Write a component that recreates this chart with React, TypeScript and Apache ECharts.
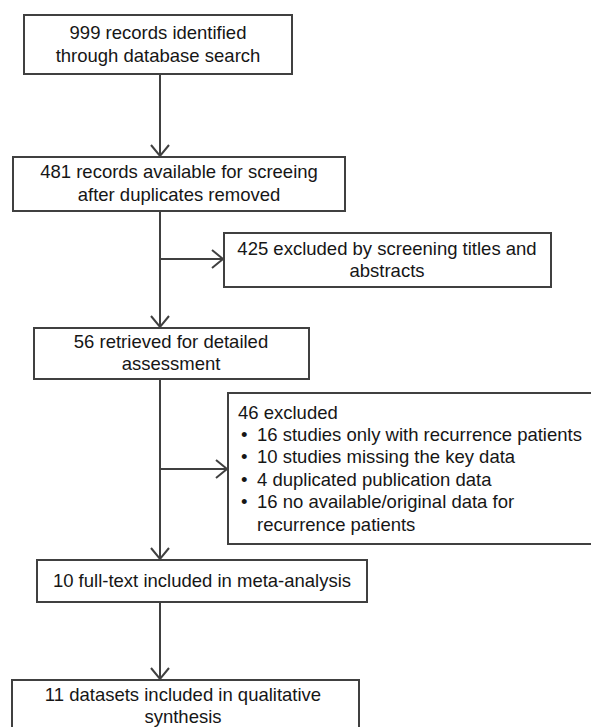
import React, { useEffect, useRef } from "react";
import * as echarts from "echarts";

const mainSteps = [
  "999 records identified\nthrough database search",
  "481 records available for screeing\nafter duplicates removed",
  "56 retrieved for detailed\nassessment",
  "10 full-text included in meta-analysis",
  "11 datasets included in qualitative\nsynthesis",
];
const exclusionTitles = ["425 excluded by screening titles and\nabstracts", "46 excluded"];
const exclusionReasons = [
  "16 studies only with recurrence patients",
  "10 studies missing the key data",
  "4 duplicated publication data",
  "16 no available/original data for\nrecurrence patients",
];

// layout (positions only)
const mainBoxes = [
  { x: 24, y: 15, w: 268, h: 59 },
  { x: 13, y: 157, w: 332, h: 54 },
  { x: 34, y: 328, w: 275, h: 51 },
  { x: 37, y: 560, w: 330, h: 42 },
  { x: 12, y: 680, w: 347, h: 70 },
];
const sideBoxes = [
  { x: 224, y: 233, w: 327, h: 54, branchY: 259 },
  { x: 228, y: 393, w: 380, h: 151, branchY: 469 },
];
const spineX = 160;
const LINE = "#404040";
const TXT = "#161616";
const FONT = '"Liberation Sans", Arial, sans-serif';
const FS = 18.5;
const LH = 22.5;

function arrowDown(x: number, y: number) {
  return {
    type: "polyline",
    shape: { points: [[x - 9, y - 11], [x, y], [x + 9, y - 11]] },
    style: { stroke: LINE, lineWidth: 2, fill: null },
  };
}
function arrowRight(x: number, y: number) {
  return {
    type: "polyline",
    shape: { points: [[x - 11, y - 9], [x, y], [x - 11, y + 9]] },
    style: { stroke: LINE, lineWidth: 2, fill: null },
  };
}
function textEl(text: string, x: number, y: number, align: string, vAlign: string) {
  return {
    type: "text",
    x,
    y,
    style: {
      text,
      fill: TXT,
      fontSize: FS,
      fontFamily: FONT,
      lineHeight: LH,
      align,
      verticalAlign: vAlign,
      textAlign: align,
      textVerticalAlign: vAlign,
    },
  };
}

export default function App() {
  const ref = useRef<HTMLDivElement>(null);
  useEffect(() => {
    if (!ref.current) return;
    const chart = echarts.init(ref.current, null, { renderer: "svg" });
    const els: any[] = [];

    // spine segments and arrows
    for (let i = 0; i < mainBoxes.length - 1; i++) {
      const a = mainBoxes[i];
      const b = mainBoxes[i + 1];
      els.push({
        type: "line",
        shape: { x1: spineX, y1: a.y + a.h, x2: spineX, y2: b.y - 1 },
        style: { stroke: LINE, lineWidth: 2 },
      });
      els.push(arrowDown(spineX, b.y - 1));
    }
    // branches
    sideBoxes.forEach((s) => {
      els.push({
        type: "line",
        shape: { x1: spineX, y1: s.branchY, x2: s.x - 1, y2: s.branchY },
        style: { stroke: LINE, lineWidth: 2 },
      });
      els.push(arrowRight(s.x - 1, s.branchY));
    });

    // main boxes
    mainBoxes.forEach((b, i) => {
      els.push({
        type: "rect",
        shape: { x: b.x, y: b.y, width: b.w, height: b.h },
        style: { fill: "#fff", stroke: LINE, lineWidth: 2 },
      });
    });
    const mainTextPos = [
      { x: 158, y: 44 },
      { x: 179, y: 183 },
      { x: 171, y: 352.5 },
      { x: 202, y: 580 },
      { x: 183, y: 705.5 },
    ];
    mainSteps.forEach((t, i) => {
      els.push(textEl(t, mainTextPos[i].x, mainTextPos[i].y, "center", "middle"));
    });

    // side boxes
    sideBoxes.forEach((s) => {
      els.push({
        type: "rect",
        shape: { x: s.x, y: s.y, width: s.w, height: s.h },
        style: { fill: "#fff", stroke: LINE, lineWidth: 2 },
      });
    });
    els.push(textEl(exclusionTitles[0], 387, 259.5, "center", "middle"));
    els.push(textEl(exclusionTitles[1], 238, 412, "left", "middle"));
    exclusionReasons.forEach((r, i) => {
      const y = 434 + i * LH;
      els.push(textEl("\u2022", 241, y, "left", "middle"));
      els.push(textEl(r, 257, y, "left", "top"));
    });
    // fix vertical alignment of reasons: use top aligned, shift
    const reasonEls = els.filter((e) => e.type === "text" && exclusionReasons.includes(e.style.text));
    reasonEls.forEach((e) => {
      e.y = e.y - LH / 2;
    });

    chart.setOption({
      animation: false,
      graphic: { elements: els },
    });
    return () => chart.dispose();
  }, []);
  return (
    <div
      ref={ref}
      style={{ position: "fixed", left: 0, top: 0, width: 591, height: 727, background: "#fff" }}
    />
  );
}
